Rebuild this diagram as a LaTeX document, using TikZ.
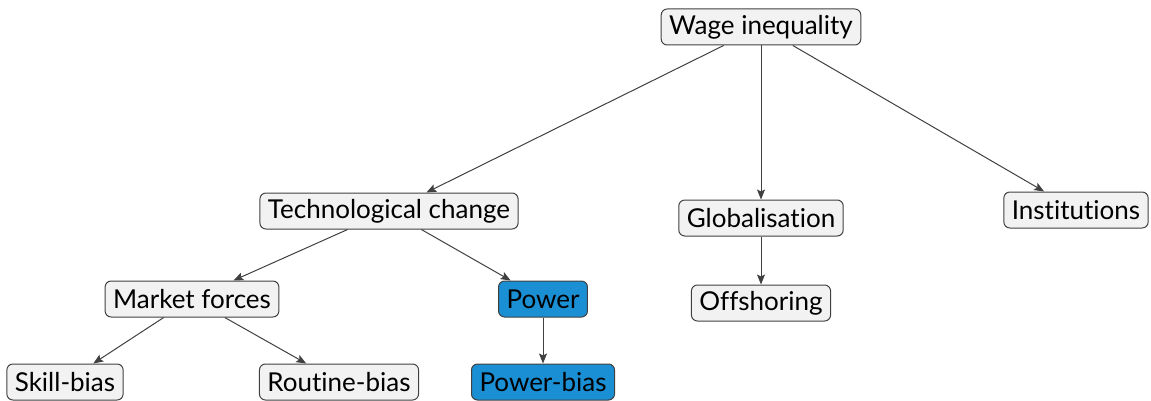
\documentclass[tikz,border=0pt]{standalone}
\usepackage{fontspec}
\setmainfont{Lato}[Ligatures={NoCommon}]
\usetikzlibrary{arrows.meta}

\definecolor{boxgray}{HTML}{F2F2F2}
\definecolor{powerblue}{HTML}{1A8FD4}
\definecolor{linegray}{HTML}{404040}

\begin{document}
\begin{tikzpicture}[x=0.5pt, y=-0.5pt,
  topic/.style={draw=linegray, fill=boxgray, rounded corners=3pt, line width=0.5pt,
    inner xsep=4pt, inner ysep=0pt, minimum height=18pt, font=\fontsize{13}{15}\selectfont},
  hot/.style={topic, fill=powerblue},
  link/.style={-{Stealth[length=5pt, width=4pt, inset=1pt]}, draw=linegray, line width=0.5pt}]
  \useasboundingbox (0,0) rectangle (1151,401);
  \node[topic] (wage) at (761,27)  {Wage inequality};
  \node[topic] (tech) at (389,211) {Technological change};
  \node[topic] (glob) at (761,218) {Globalisation};
  \node[topic] (inst) at (1076,210) {Institutions};
  \node[topic] (mkt)  at (192,299) {Market forces};
  \node[hot]   (pow)  at (543,299) {Power};
  \node[topic] (off)  at (761,303) {Offshoring};
  \node[topic] (skill) at (65,382) {Skill-bias};
  \node[topic] (rout) at (339,382) {Routine-bias};
  \node[hot]   (pbias) at (543,382) {Power-bias};
  \draw[link] (wage) -- (tech);
  \draw[link] (wage) -- (glob);
  \draw[link] (wage) -- (inst);
  \draw[link] (tech) -- (mkt);
  \draw[link] (tech) -- (pow);
  \draw[link] (glob) -- (off);
  \draw[link] (mkt)  -- (skill);
  \draw[link] (mkt)  -- (rout);
  \draw[link] (pow)  -- (pbias);
\end{tikzpicture}
\end{document}
